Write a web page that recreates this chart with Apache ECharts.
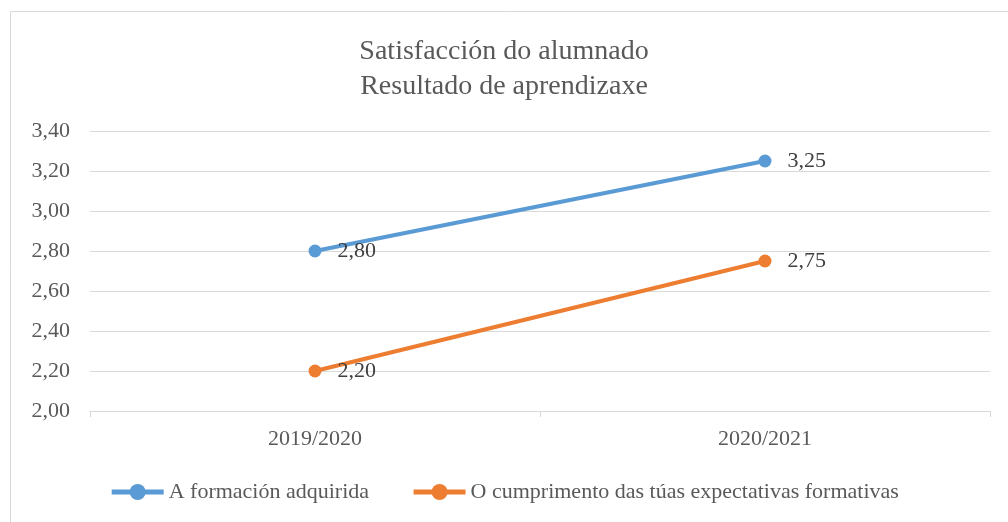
<!DOCTYPE html>
<html>
<head>
<meta charset="utf-8">
<script src="https://cdn.jsdelivr.net/npm/echarts@6/dist/echarts.min.js"></script>
<style>
  html, body { margin: 0; padding: 0; background: #fff; }
  #chart { width: 1008px; height: 522px; }
</style>
</head>
<body>
<div id="chart"></div>
<script>
'use strict';
/* satisfaccion do alumnado - line chart */

var categories = ['2019/2020', '2020/2021'];
var formacion = [2.80, 3.25];
var cumprimento = [2.20, 2.75];
var seriesNames = ['A formación adquirida', 'O cumprimento das túas expectativas formativas'];

var FONT = '"Liberation Serif", "DejaVu Serif", serif';
var TEXT = '#595959';

function comma(v) {
  return Number(v).toFixed(2).replace('.', ',');
}

var chart = echarts.init(document.getElementById('chart'));

function lineSeries(name, data, color) {
  return {
    name: name,
    type: 'line',
    data: data,
    symbol: 'circle',
    symbolSize: 13,
    lineStyle: { width: 4, color: color },
    itemStyle: { color: color },
    label: {
      show: true,
      position: 'right',
      distance: 16,
      color: '#404040',
      fontFamily: FONT,
      fontSize: 22,
      formatter: function(p) { return comma(p.value); }
    },
    animation: false
  };
}

var option = {
  backgroundColor: '#fff',
  textStyle: { fontFamily: FONT },
  graphic: [{
    type: 'rect',
    shape: { x: 10.5, y: 11.5, width: 1010, height: 520 },
    style: { fill: 'none', stroke: '#d9d9d9', lineWidth: 1 },
    silent: true
  }],
  title: {
    text: 'Satisfacción do alumnado\nResultado de aprendizaxe',
    left: 'center',
    top: 29,
    textStyle: {
      fontFamily: FONT,
      fontWeight: 'normal',
      fontSize: 28,
      color: TEXT,
      lineHeight: 35
    }
  },
  legend: {
    bottom: 14,
    left: 'center',
    itemWidth: 52,
    itemHeight: 20,
    itemGap: 42,
    lineStyle: { width: 5 },
    textStyle: { fontFamily: FONT, fontSize: 22, color: TEXT },
    data: seriesNames
  },
  grid: { left: 90, right: 18, top: 131, bottom: 111, containLabel: false },
  xAxis: {
    type: 'category',
    data: categories,
    boundaryGap: true,
    axisLine: { lineStyle: { color: '#d9d9d9', width: 1 } },
    axisTick: { show: true, length: 6, lineStyle: { color: '#d9d9d9' } },
    axisLabel: { color: TEXT, fontFamily: FONT, fontSize: 22, margin: 17 }
  },
  yAxis: {
    type: 'value',
    min: 2.0,
    max: 3.4,
    interval: 0.2,
    axisLine: { show: false },
    axisTick: { show: false },
    splitLine: { lineStyle: { color: '#d9d9d9', width: 1 } },
    axisLabel: {
      color: TEXT,
      fontFamily: FONT,
      fontSize: 22,
      margin: 20,
      formatter: comma
    }
  },
  series: [
    lineSeries(seriesNames[0], formacion, '#5b9bd5'),
    lineSeries(seriesNames[1], cumprimento, '#ed7d31')
  ]
};

chart.setOption(option);
</script>
</body>
</html>
